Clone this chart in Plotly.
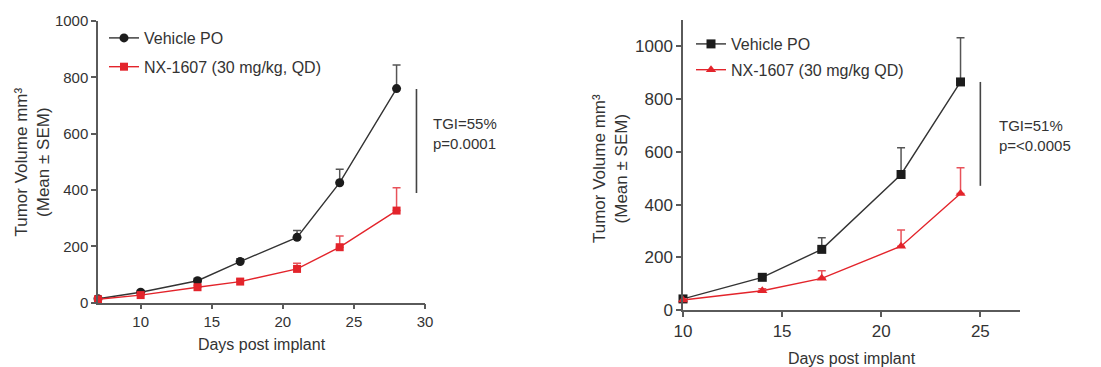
import plotly.graph_objects as go

# ---- Data (left panel) ----
days_left = [7, 10, 14, 17, 21, 24, 28]
veh_left = [14, 37, 78, 146, 232, 426, 760]
veh_left_err = [5, 6, 8, 10, 24, 48, 84]
nx_left = [12, 27, 55, 75, 120, 197, 327]
nx_left_err = [4, 5, 7, 8, 20, 40, 81]

# ---- Data (right panel) ----
days_right = [10, 14, 17, 21, 24]
veh_right = [42, 124, 230, 514, 865]
veh_right_err = [6, 12, 44, 101, 168]
nx_right = [38, 73, 120, 242, 442]
nx_right_err = [5, 8, 29, 61, 98]

name_veh = "Vehicle PO"
name_nx_left = "NX-1607 (30 mg/kg, QD)"
name_nx_right = "NX-1607 (30 mg/kg QD)"
tgi_left = "TGI=55%<br>p=0.0001"
tgi_right = "TGI=51%<br>p=<0.0005"

BLACK = "#1c1c1c"
LINE_BLACK = "#333333"
ERR_BLACK = "#555555"
RED = "#e3242b"
ERR_RED = "#e8525a"
AXIS = "#5a5a5a"
TEXT = "#333333"
FONT = "Liberation Sans, Arial, sans-serif"

# page body margin offset (px) and visible figure size
OFF = 8
W, H = 1101 - OFF, 367 - OFF


def px(x):
    return (x - OFF) / W


def py(y):
    return 1 - (y - OFF) / H


fig = go.Figure()


def add(x, y, err, name, color, lcolor, ecolor, symbol, size, xa, ya, legend, group):
    fig.add_trace(go.Scatter(
        x=x, y=y, name=name, mode="lines+markers",
        line=dict(color=lcolor, width=1.4),
        marker=dict(color=color, symbol=symbol, size=size),
        error_y=dict(type="data", symmetric=False, array=err,
                     arrayminus=[0] * len(err), color=ecolor,
                     thickness=1.5, width=4),
        cliponaxis=False, xaxis=xa, yaxis=ya, legend=legend,
        legendgroup=group,
    ))


add(days_left, veh_left, veh_left_err, name_veh, BLACK, LINE_BLACK, ERR_BLACK,
    "circle", 9, "x", "y", "legend", "a")
add(days_left, nx_left, nx_left_err, name_nx_left, RED, RED, ERR_RED,
    "square", 8, "x", "y", "legend", "b")
add(days_right, veh_right, veh_right_err, name_veh, BLACK, LINE_BLACK, ERR_BLACK,
    "square", 9, "x2", "y2", "legend2", "c")
add(days_right, nx_right, nx_right_err, name_nx_right, RED, RED, ERR_RED,
    "triangle-up", 9, "x2", "y2", "legend2", "d")

axis_common = dict(showgrid=False, zeroline=False, showline=True,
                   linecolor=AXIS, linewidth=1.5, ticks="outside",
                   ticklen=5, tickcolor=AXIS, tickwidth=1.5, automargin=False,
                   tickfont=dict(family=FONT, size=15, color=TEXT))

legend_common = dict(xanchor="left", yanchor="top", bgcolor="rgba(0,0,0,0)",
                     itemwidth=30,
                     font=dict(family=FONT, size=16, color=TEXT))

fig.update_layout(
    width=W, height=H,
    margin=dict(l=0, r=0, t=0, b=0, autoexpand=False),
    plot_bgcolor="white", paper_bgcolor="white",
    font=dict(family=FONT, color=TEXT, size=14),
    xaxis=dict(axis_common, domain=[px(98), px(425)], range=[7, 30],
               tickvals=[10, 15, 20, 25, 30], anchor="y",
               title=dict(text="Days post implant", standoff=9,
                          font=dict(size=16))),
    yaxis=dict(axis_common, domain=[py(302.7), py(21)], range=[0, 1000],
               tickvals=[0, 200, 400, 600, 800, 1000], anchor="x"),
    xaxis2=dict(axis_common, domain=[px(683), px(1020)], range=[10, 27],
                tickvals=[10, 15, 20, 25], anchor="y2",
                tickfont=dict(family=FONT, size=17, color=TEXT),
                title=dict(text="Days post implant", standoff=15,
                           font=dict(size=16))),
    yaxis2=dict(axis_common, domain=[py(310), py(20)], range=[0, 1100],
                tickvals=[0, 200, 400, 600, 800, 1000], anchor="x2",
                tickfont=dict(family=FONT, size=17, color=TEXT)),
    legend=dict(legend_common, x=px(104), y=py(21), tracegroupgap=5),
    legend2=dict(legend_common, x=px(691), y=py(27), tracegroupgap=2),
)

# TGI brackets
fig.add_shape(type="line", xref="x", yref="y", x0=29.4, x1=29.4, y0=389, y1=759,
              line=dict(color="#444444", width=1.6))
fig.add_shape(type="line", xref="x2", yref="y2", x0=25, x1=25, y0=471, y1=865,
              line=dict(color="#444444", width=1.6))
fig.add_annotation(xref="paper", yref="paper", x=px(431), y=py(133),
                   text=tgi_left, showarrow=False, xanchor="left",
                   yanchor="middle", align="left",
                   font=dict(size=15, color=TEXT))
fig.add_annotation(xref="paper", yref="paper", x=px(997), y=py(135),
                   text=tgi_right, showarrow=False, xanchor="left",
                   yanchor="middle", align="left",
                   font=dict(size=15, color=TEXT))

# Y-axis titles
ytitle = "Tumor Volume mm³<br>(Mean ± SEM)"
fig.add_annotation(xref="paper", yref="paper", x=px(31.5), y=py(162),
                   text=ytitle, textangle=-90, showarrow=False,
                   xanchor="center", yanchor="middle",
                   font=dict(size=17, color=TEXT))
fig.add_annotation(xref="paper", yref="paper", x=px(610), y=py(169),
                   text=ytitle, textangle=-90, showarrow=False,
                   xanchor="center", yanchor="middle",
                   font=dict(size=17, color=TEXT))

fig.write_html("out.html")
